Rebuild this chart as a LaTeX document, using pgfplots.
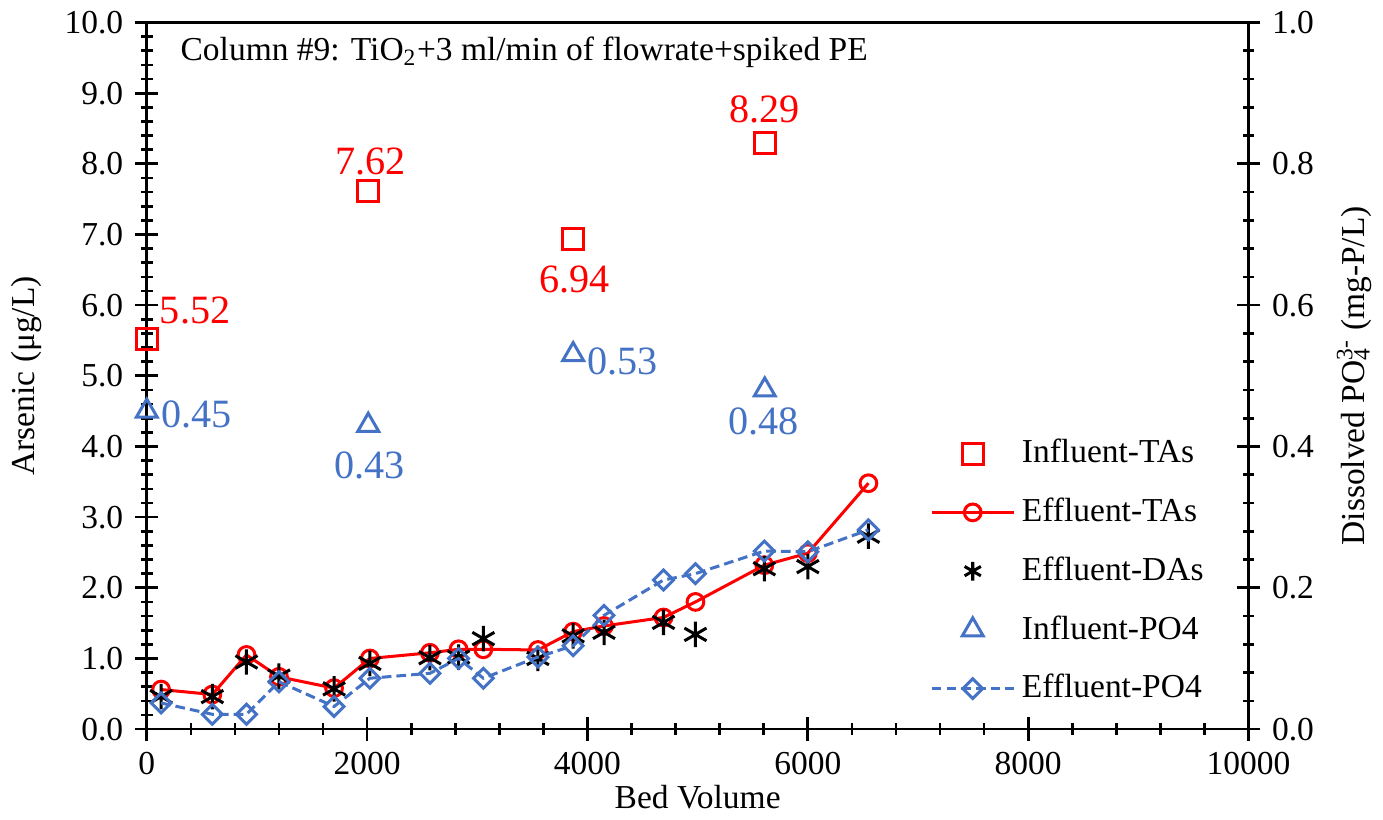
\documentclass[border=0pt]{standalone}
\usepackage{fontspec}
\setmainfont{Liberation Serif}
\usepackage{pgfplots}
\pgfplotsset{compat=1.18}
\definecolor{myblue}{RGB}{68,114,196}
\definecolor{myred}{RGB}{255,0,0}
\pgfplotsset{
  longleg/.style={legend image code/.code={\draw[mark repeat=2,mark phase=2,##1] plot coordinates {(0cm,0cm)(0.43cm,0cm)(0.86cm,0cm)};}},
  common/.style={
    width=329pt, height=211pt, scale only axis,
    xmin=0, xmax=10000, clip=false,
    scaled x ticks=false, scaled y ticks=false,
    tick align=center, major tick length=7pt, minor tick length=3.5pt,
    /pgf/number format/assume math mode=true,
    axis line style={line width=0.8pt, black},
    tick style={line width=0.8pt, black},
    tick label style={font=\normalsize},
    label style={font=\normalsize},
  }
}
\pgfplotstableread{
x y
130 0.56
595 0.49
905 1.05
1200 0.74
1700 0.58
2025 1.00
2570 1.08
2830 1.13
3055 1.13
3550 1.12
3870 1.38
4150 1.46
4690 1.58
4980 1.80
5605 2.32
6000 2.49
6550 3.48
}\efftas
\pgfplotstableread{
x y
130 0.46
595 0.46
905 0.95
1200 0.75
1700 0.57
2025 0.93
2570 1.01
2830 1.02
3055 1.28
3550 1.00
3870 1.32
4150 1.37
4690 1.51
4980 1.34
5605 2.27
6000 2.30
6550 2.73
}\effdas
\pgfplotstableread{
x y
130 0.037
595 0.021
905 0.021
1200 0.067
1700 0.032
2025 0.072
2570 0.079
2830 0.100
3055 0.072
3550 0.102
3870 0.118
4150 0.161
4690 0.211
4980 0.220
5605 0.252
6000 0.251
6550 0.282
}\effpo
\pgfplotstableread{
x y
0 5.52
2010 7.62
3870 6.94
5609 8.29
}\inftas
\pgfplotstableread{
x y
0 0.45
2010 0.43
3870 0.53
5609 0.48
}\infpo
\begin{document}
\begin{tikzpicture}
\begin{axis}[common,
  ymin=0, ymax=10, ytick={0,1,...,10}, minor y tick num=4,
  xtick={0,2000,4000,6000,8000,10000}, minor x tick num=4,
  xtick pos=left, ytick pos=left,
  yticklabel style={/pgf/number format/.cd, fixed, fixed zerofill, precision=1},
  xticklabel style={/pgf/number format/.cd, fixed, 1000 sep={}},
  xlabel={Bed Volume}, ylabel={Arsenic (μg/L)},
  xlabel style={yshift=4pt},
]
\addplot[only marks, mark=square, myred, mark size=3.1pt, line width=0.9pt] table[x=x,y=y] {\inftas};
\addplot[myred, mark=o, mark size=2.5pt, line width=0.9pt] table[x=x,y=y] {\efftas};
\addplot[only marks, mark=asterisk, black, mark size=3.8pt, line width=0.9pt] table[x=x,y=y] {\effdas};
\node[myred, font=\large] at (axis cs:439,5.92) {5.52};
\node[myred, font=\large] at (axis cs:2032,8.03) {7.62};
\node[myred, font=\large] at (axis cs:3880,6.36) {6.94};
\node[myred, font=\large] at (axis cs:5609,8.77) {8.29};
\node[myblue, font=\large] at (axis cs:451,4.46) {0.45};
\node[myblue, font=\large] at (axis cs:2020,3.73) {0.43};
\node[myblue, font=\large] at (axis cs:4316,5.21) {0.53};
\node[myblue, font=\large] at (axis cs:5600,4.36) {0.48};
\node[anchor=west] at (rel axis cs:0.02,0.958) {Column \#9: TiO\textsubscript{2}+3 ml/min of flowrate+spiked PE};
\end{axis}
\begin{axis}[common,
  axis y line*=right, axis x line=none,
  ymin=0, ymax=1, ytick={0,0.2,0.4,0.6,0.8,1.0}, minor y tick num=4,
  yticklabel style={/pgf/number format/.cd, fixed, fixed zerofill, precision=1},
  ylabel={Dissolved PO\rlap{\textsubscript{4}}\textsuperscript{3-} (mg-P/L)},
  longleg,
  legend style={draw=none, fill=none, at={(0.975,0.43)}, anchor=north east, row sep=5pt, font=\normalsize},
  legend cell align=left,
]
\addlegendimage{only marks, mark=square, myred, mark size=3.1pt, line width=0.9pt}
\addlegendentry{Influent-TAs}
\addlegendimage{myred, mark=o, mark size=2.5pt, line width=0.9pt}
\addlegendentry{Effluent-TAs}
\addlegendimage{only marks, mark=asterisk, black, mark size=2.8pt, line width=0.9pt}
\addlegendentry{Effluent-DAs}
\addplot[only marks, mark=triangle, myblue, mark size=3.6pt, line width=0.9pt] table[x=x,y=y] {\infpo};
\addlegendentry{Influent-PO4}
\addplot[myblue, dash pattern=on 2.9pt off 1.5pt, mark=square, mark options={solid, rotate=45}, mark size=2.1pt, line width=0.9pt] table[x=x,y=y] {\effpo};
\addlegendentry{Effluent-PO4}
\end{axis}
\end{tikzpicture}
\end{document}
